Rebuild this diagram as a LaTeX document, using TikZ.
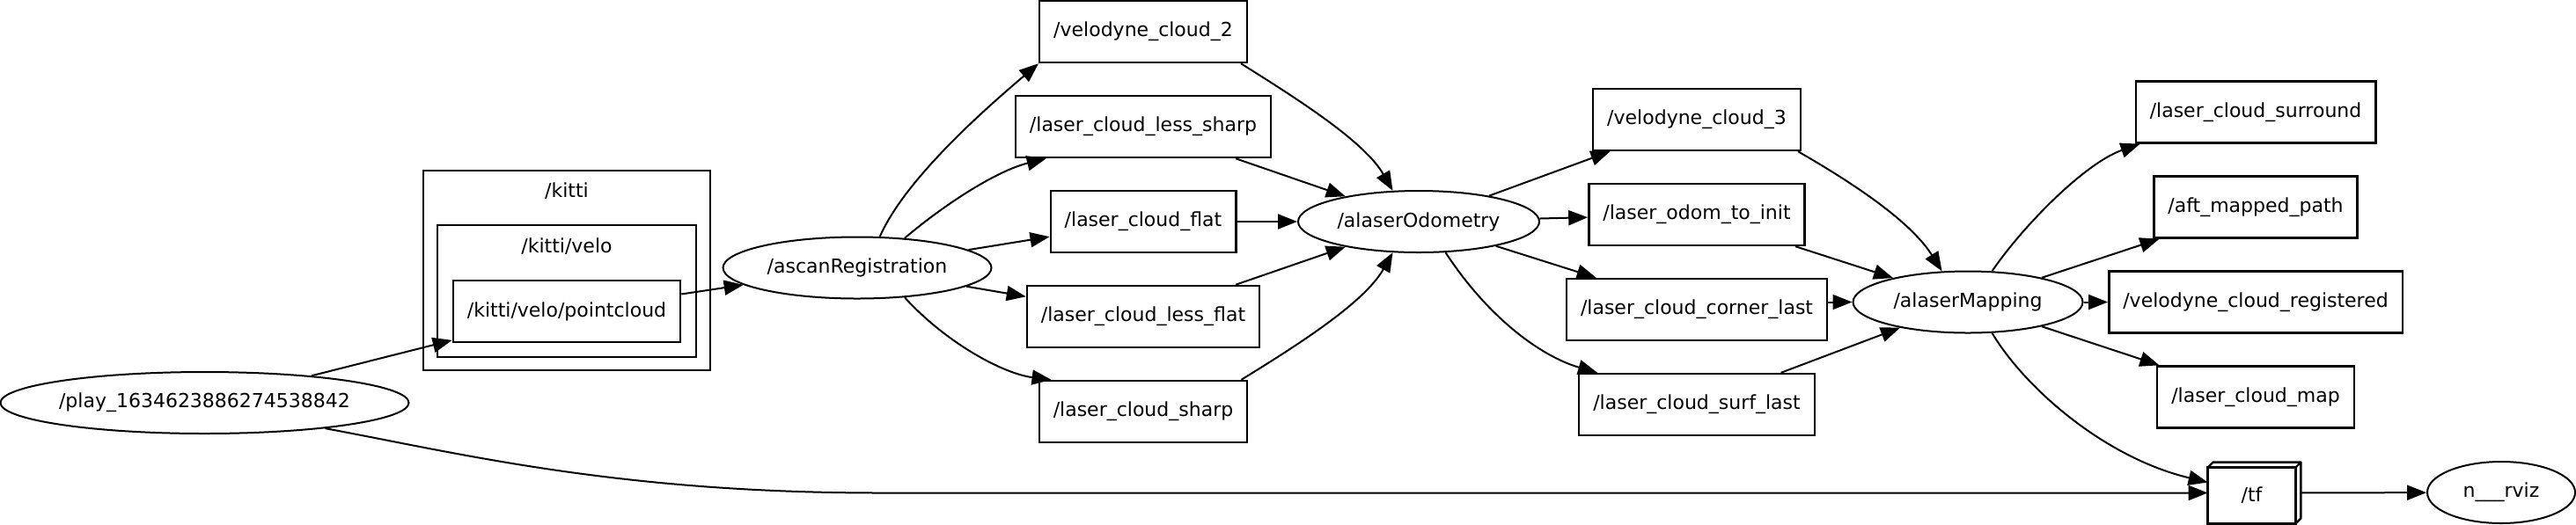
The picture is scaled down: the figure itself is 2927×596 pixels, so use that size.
\documentclass[tikz,border=0pt]{standalone}
\usepackage{fontspec}
\setmainfont{DejaVu Sans}
\usetikzlibrary{arrows.meta,shapes.geometric}
\begin{document}
\begin{tikzpicture}[x=0.5pt,y=-0.5pt,
  every node/.style={font=\fontsize{11pt}{13pt}\selectfont},
  topic/.style={draw, rectangle, line width=1.2pt, minimum height=35pt, inner xsep=8pt, inner ysep=0pt},
  rosnode/.style={draw, ellipse, line width=1pt, inner sep=0pt, minimum height=35pt},
  cluster/.style={draw, rectangle, line width=1pt, inner sep=0pt},
  arr/.style={line width=1pt, -{Triangle[length=11pt,width=8.5pt]}}
]
\useasboundingbox (0,0) rectangle (2927,596);

% clusters
\node[cluster, minimum width=163pt, minimum height=113.5pt] (kitti) at (644,307.5) {};
\node[cluster, minimum width=147pt, minimum height=75pt] (velo) at (644,331) {};
\node (kittilbl) at (644,217) {/kitti};
\node (velolbl) at (644,280) {/kitti/velo};

% nodes (ellipses)
\node[rosnode, minimum width=232pt] (play) at (232.5,458) {\makebox[0pt]{/play\_1634623886274538842}};
\node[rosnode, minimum width=152.5pt] (asc) at (974,304.5) {\makebox[0pt]{/ascanRegistration}};
\node[rosnode, minimum width=137pt] (odom) at (1612,252) {\makebox[0pt]{/alaserOdometry}};
\node[rosnode, minimum width=130.5pt] (mapping) at (2236,343.5) {\makebox[0pt]{/alaserMapping}};
\node[rosnode, minimum width=84pt] (rviz) at (2842,560) {\makebox[0pt]{n\_\_\_rviz}};

% topics
\node[topic] (pc) at (644,354) {/kitti/velo/pointcloud};
\node[topic] (vc2) at (1299,36) {/velodyne\_cloud\_2};
\node[topic] (ls) at (1299,144) {/laser\_cloud\_less\_sharp};
\node[topic] (flat) at (1299,252) {/laser\_cloud\_flat};
\node[topic] (lf) at (1299,360) {/laser\_cloud\_less\_flat};
\node[topic] (sharp) at (1299,468) {/laser\_cloud\_sharp};
\node[topic] (vc3) at (1928,136) {/velodyne\_cloud\_3};
\node[topic] (oti) at (1928,244) {/laser\_odom\_to\_init};
\node[topic] (corner) at (1928,352) {/laser\_cloud\_corner\_last};
\node[topic] (surf) at (1928,460) {/laser\_cloud\_surf\_last};
\node[topic] (surround) at (2563,127.5) {/laser\_cloud\_surround};
\node[topic] (aft) at (2563,235.5) {/aft\_mapped\_path};
\node[topic] (reg) at (2563,343.5) {/velodyne\_cloud\_registered};
\node[topic] (lcm) at (2563,451.5) {/laser\_cloud\_map};

% tf (box3d)
\node[rectangle, inner sep=0pt, minimum width=52.5pt, minimum height=34.5pt] (tf) at (2561.5,560.5) {};
\node (tflbl) at (2558.5,563.5) {/tf};
\draw[line width=1.2pt] (tf.south west) rectangle ([xshift=-3pt,yshift=-3pt]tf.north east);
\draw[line width=1.2pt, line join=round] ([yshift=-3pt]tf.north west) -- ([xshift=3pt]tf.north west) -- (tf.north east) -- ([yshift=3pt]tf.south east) -- ([xshift=-3pt]tf.south east);
\draw[line width=1.2pt] ([xshift=-3pt,yshift=-3pt]tf.north east) -- (tf.north east);

% edges
\draw[arr] (play) -- (pc);
\draw[arr] (pc) -- (asc);
\draw[arr] (play.-12) .. controls (520,515) and (700,560.5) .. (1000,560.5) -- (tf.west);

\draw[arr] (asc.54) .. controls (1030,200) and (1130,115) .. (vc2.south west);
\draw[arr] (asc.32) .. controls (1070,235) and (1130,195) .. ([xshift=18pt]ls.south west);
\draw[arr] (asc) -- (flat);
\draw[arr] (asc) -- (lf);
\draw[arr] (asc.-32) .. controls (1075,390) and (1140,425) .. ([xshift=7.5pt]sharp.north west);

\draw[arr] ([xshift=-4pt]vc2.south east) .. controls (1470,110) and (1550,160) .. (odom.130);
\draw[arr] (ls) -- (odom);
\draw[arr] (flat) -- (odom);
\draw[arr] (lf) -- (odom);
\draw[arr] ([xshift=-4pt]sharp.north east) .. controls (1470,395) and (1550,345) .. (odom.-130);

\draw[arr] (odom) -- (vc3);
\draw[arr] (odom) -- (oti);
\draw[arr] (odom) -- (corner);
\draw[arr] (odom.-49) .. controls (1690,360) and (1750,405) .. ([xshift=11pt]surf.north west);

\draw[arr] ([xshift=-2pt]vc3.south east) .. controls (2100,205) and (2170,250) .. (mapping.130);
\draw[arr] (oti) -- (mapping);
\draw[arr] (corner.east |- mapping.west) -- (mapping);
\draw[arr] (surf) -- (mapping);

\draw[arr] (mapping.52) .. controls (2300,255) and (2370,185) .. ([xshift=3pt]surround.south west);
\draw[arr] (mapping) -- (aft);
\draw[arr] (mapping) -- (reg);
\draw[arr] (mapping) -- (lcm);
\draw[arr] (mapping.-52) .. controls (2300,440) and (2390,520) .. ([yshift=6pt]tf.west);
\draw[arr] (tf) -- (rviz);
\end{tikzpicture}
\end{document}
